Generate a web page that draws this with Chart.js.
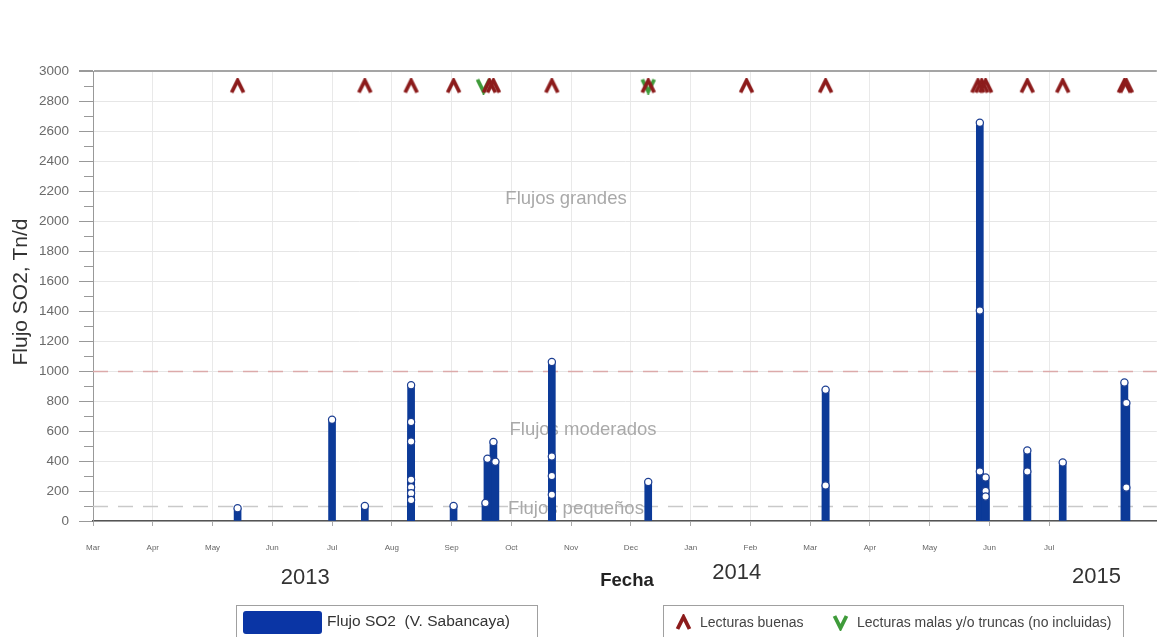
<!DOCTYPE html>
<html>
<head>
<meta charset="utf-8">
<script src="https://cdn.jsdelivr.net/npm/chart.js@4/dist/chart.umd.min.js"></script>
<style>
  html, body { margin: 0; padding: 0; background: #ffffff; }
  #wrap { width: 1162px; height: 637px; position: relative; }
  canvas { display: block; }
</style>
</head>
<body>
<div id="wrap"><canvas id="chart" width="1162" height="637"></canvas></div>
<script>
// Month tick labels along the date axis (one per month, starting in March 2013)
const monthLabels = ['Mar','Apr','May','Jun','Jul','Aug','Sep','Oct','Nov','Dec','Jan','Feb','Mar','Apr','May','Jun','Jul'];
const yearLabels = ['2013', '2014', '2015'];
const yTicks = [0, 200, 400, 600, 800, 1000, 1200, 1400, 1600, 1800, 2000, 2200, 2400, 2600, 2800, 3000];

// SO2 flux measurements (Tn/d) — one entry per reading
const fluxDates = [
  '2013-05-14',
  '2013-07-01',
  '2013-07-18',
  '2013-08-11', '2013-08-11', '2013-08-11', '2013-08-11', '2013-08-11', '2013-08-11', '2013-08-11',
  '2013-09-02',
  '2013-09-18', '2013-09-19', '2013-09-22', '2013-09-23',
  '2013-10-22', '2013-10-22', '2013-10-22', '2013-10-22',
  '2013-12-10',
  '2014-03-09', '2014-03-09',
  '2014-05-27', '2014-05-27', '2014-05-27',
  '2014-05-30', '2014-05-30', '2014-05-30',
  '2014-06-20', '2014-06-20',
  '2014-07-08',
  '2014-08-09', '2014-08-10', '2014-08-10'
];
const fluxValues = [
  85,
  675,
  100,
  905, 660, 530, 275, 225, 185, 140,
  100,
  120, 415, 527, 395,
  1060, 430, 300, 175,
  260,
  875, 237,
  2655, 1403, 330,
  290, 200, 163,
  470, 330,
  390,
  923, 787, 223
];

// Dates of good readings and of bad / truncated readings (not included)
const goodReadingDates = [
  '2013-05-14', '2013-07-18', '2013-08-11', '2013-09-02', '2013-09-20', '2013-09-22',
  '2013-10-22', '2013-12-10', '2014-01-30', '2014-03-09',
  '2014-05-26', '2014-05-28', '2014-05-30', '2014-06-20', '2014-07-08', '2014-08-09', '2014-08-10'
];
const badReadingDates = ['2013-09-17', '2013-12-10'];
const readingMarkerLevel = 2900;

// Flux class thresholds and their zone names
const thresholdValues = [1000, 100];
const zoneNames = ['Flujos grandes', 'Flujos moderados', 'Flujos pequeños'];
const zoneLevels = [2145, 605, 80];

const seriesLabels = ['Flujo SO2  (V. Sabancaya)', 'Lecturas buenas', 'Lecturas malas y/o truncas (no incluidas)'];

// Fractional month position, 0 = 1 March 2013
function monthPos(dateStr) {
  const [y, m, d] = dateStr.split('-').map(Number);
  const days = new Date(y, m, 0).getDate();
  return (y - 2013) * 12 + (m - 3) + (d - 1) / days;
}

const FONT = 'Arial, "Liberation Sans", sans-serif';
const BAR_BLUE = '#0c3a98';
const RED = '#8c1b1b';
const GREEN = '#3f9b3a';

function chevronCanvas(color, up, size, lw) {
  const c = document.createElement('canvas');
  c.width = size; c.height = size;
  const g = c.getContext('2d');
  g.strokeStyle = color;
  g.lineWidth = lw;
  g.lineJoin = 'miter';
  g.lineCap = 'butt';
  g.beginPath();
  if (up) {
    g.moveTo(2.5, size - 2); g.lineTo(size / 2, 3); g.lineTo(size - 2.5, size - 2);
  } else {
    g.moveTo(2.5, 2); g.lineTo(size / 2, size - 3); g.lineTo(size - 2.5, 2);
  }
  g.stroke();
  return c;
}
const upMark = chevronCanvas(RED, true, 17, 3.8);
const downMark = chevronCanvas(GREEN, false, 17, 3.8);

const fluxPoints = fluxDates.map((d, i) => ({ x: monthPos(d), y: fluxValues[i] }));

const decorPlugin = {
  id: 'decor',
  beforeDatasetsDraw(chart) {
    const { ctx, chartArea, scales } = chart;
    const y = scales.y;
    ctx.save();
    // threshold lines
    const lineColors = ['#dcaaaa', '#c9c9c9'];
    thresholdValues.forEach((v, i) => {
      const py = Math.round(y.getPixelForValue(v)) + 0.5;
      ctx.strokeStyle = lineColors[i];
      ctx.lineWidth = 1.6;
      ctx.setLineDash([15, 10]);
      ctx.beginPath();
      ctx.moveTo(chartArea.left, py);
      ctx.lineTo(chartArea.right, py);
      ctx.stroke();
    });
    ctx.setLineDash([]);
    // zone names
    ctx.fillStyle = '#a9a9a9';
    ctx.font = '18.5px ' + FONT;
    ctx.textAlign = 'center';
    ctx.textBaseline = 'middle';
    const zx = [566, 583, 576];
    zoneNames.forEach((t, i) => {
      ctx.fillText(t, zx[i], y.getPixelForValue(zoneLevels[i]));
    });
    // minor ticks on the value axis
    ctx.strokeStyle = '#999';
    ctx.lineWidth = 1;
    for (let v = 100; v < 3000; v += 200) {
      const py = Math.round(y.getPixelForValue(v)) + 0.5;
      ctx.beginPath();
      ctx.moveTo(chartArea.left - 9, py);
      ctx.lineTo(chartArea.left, py);
      ctx.stroke();
    }
    ctx.restore();
  },
  afterDraw(chart) {
    const { ctx, scales } = chart;
    const x = scales.x;
    ctx.save();
    // axis title for values
    ctx.fillStyle = '#333';
    ctx.font = '21px ' + FONT;
    ctx.textAlign = 'center';
    ctx.textBaseline = 'middle';
    ctx.translate(21, 292);
    ctx.rotate(-Math.PI / 2);
    ctx.fillText('Flujo SO2, Tn/d', 0, 0);
    ctx.restore();

    ctx.save();
    // year labels under the month ticks
    ctx.fillStyle = '#333';
    ctx.font = '22px ' + FONT;
    ctx.textAlign = 'center';
    ctx.textBaseline = 'middle';
    const yearPos = [3.55, 10.77, 16.79];
    const yearY = [578, 573, 577];
    yearLabels.forEach((t, i) => ctx.fillText(t, x.getPixelForValue(yearPos[i]), yearY[i]));
    // date axis title
    ctx.font = 'bold 18.5px ' + FONT;
    ctx.fillStyle = '#222';
    ctx.fillText('Fecha', 627, 581);

    // legend for the flux series
    const ds = chart.data.datasets;
    ctx.strokeStyle = '#a0a0a0';
    ctx.lineWidth = 1;
    ctx.strokeRect(236.5, 605.5, 301, 40);
    ctx.fillStyle = '#0a35a5';
    ctx.beginPath();
    ctx.roundRect(243, 611, 79, 23, 3);
    ctx.fill();
    ctx.fillStyle = '#333';
    ctx.font = '15.5px ' + FONT;
    ctx.textAlign = 'left';
    ctx.fillText(ds[0].label, 327, 622);

    // legend for the reading markers
    ctx.strokeRect(663.5, 605.5, 460, 40);
    ctx.drawImage(upMark, 675, 614);
    ctx.fillStyle = '#444';
    ctx.font = '14px ' + FONT;
    ctx.fillText(ds[2].label, 700, 623);
    ctx.drawImage(downMark, 832, 614);
    ctx.fillText(ds[3].label, 857, 623);
    ctx.restore();
  }
};

new Chart(document.getElementById('chart'), {
  data: {
    datasets: [
      {
        type: 'bar',
        label: seriesLabels[0],
        data: fluxPoints,
        backgroundColor: BAR_BLUE,
        borderWidth: 0,
        barThickness: 7,
        order: 4
      },
      {
        type: 'scatter',
        label: 'points',
        data: fluxPoints,
        pointRadius: 3.6,
        pointBackgroundColor: '#ffffff',
        pointBorderColor: '#1d3f93',
        pointBorderWidth: 1.2,
        order: 3
      },
      {
        type: 'scatter',
        label: seriesLabels[1],
        data: goodReadingDates.map(d => ({ x: monthPos(d), y: readingMarkerLevel })),
        pointStyle: upMark,
        order: 1
      },
      {
        type: 'scatter',
        label: seriesLabels[2],
        data: badReadingDates.map(d => ({ x: monthPos(d), y: readingMarkerLevel })),
        pointStyle: downMark,
        order: 2
      }
    ]
  },
  options: {
    responsive: false,
    devicePixelRatio: 1,
    animation: false,
    layout: { padding: { left: 0, top: 71, right: 4, bottom: 0 } },
    plugins: {
      legend: { display: false },
      tooltip: { enabled: false }
    },
    scales: {
      x: {
        type: 'linear',
        offset: false,
        min: 0,
        max: 17.8,
        afterBuildTicks: (scale) => { scale.ticks = monthLabels.map((_, i) => ({ value: i })); },
        afterFit: (scale) => { scale.height = 116; },
        ticks: {
          autoSkip: false,
          maxRotation: 0,
          padding: 17,
          color: '#666',
          font: { size: 8, family: FONT },
          callback: (v, i) => monthLabels[i]
        },
        grid: {
          offset: false,
          color: '#e9e9e9',
          lineWidth: 1,
          tickLength: 5,
          tickColor: '#aaa'
        },
        border: { color: '#555', width: 1.5 }
      },
      y: {
        min: 0,
        max: 3000,
        afterBuildTicks: (scale) => { scale.ticks = yTicks.map(v => ({ value: v })); },
        afterFit: (scale) => { scale.width = 93; },
        ticks: {
          padding: 10,
          color: '#6a6a6a',
          font: { size: 13.5, family: FONT },
          callback: (v) => String(v)
        },
        grid: {
          color: (c) => (c.tick && c.tick.value === 3000 ? '#a5a5a5' : '#e6e6e6'),
          lineWidth: (c) => (c.tick && c.tick.value === 3000 ? 2 : 1),
          tickLength: 14,
          tickColor: '#999'
        },
        border: { color: '#999', width: 1 }
      }
    }
  },
  plugins: [decorPlugin]
});
</script>
</body>
</html>
